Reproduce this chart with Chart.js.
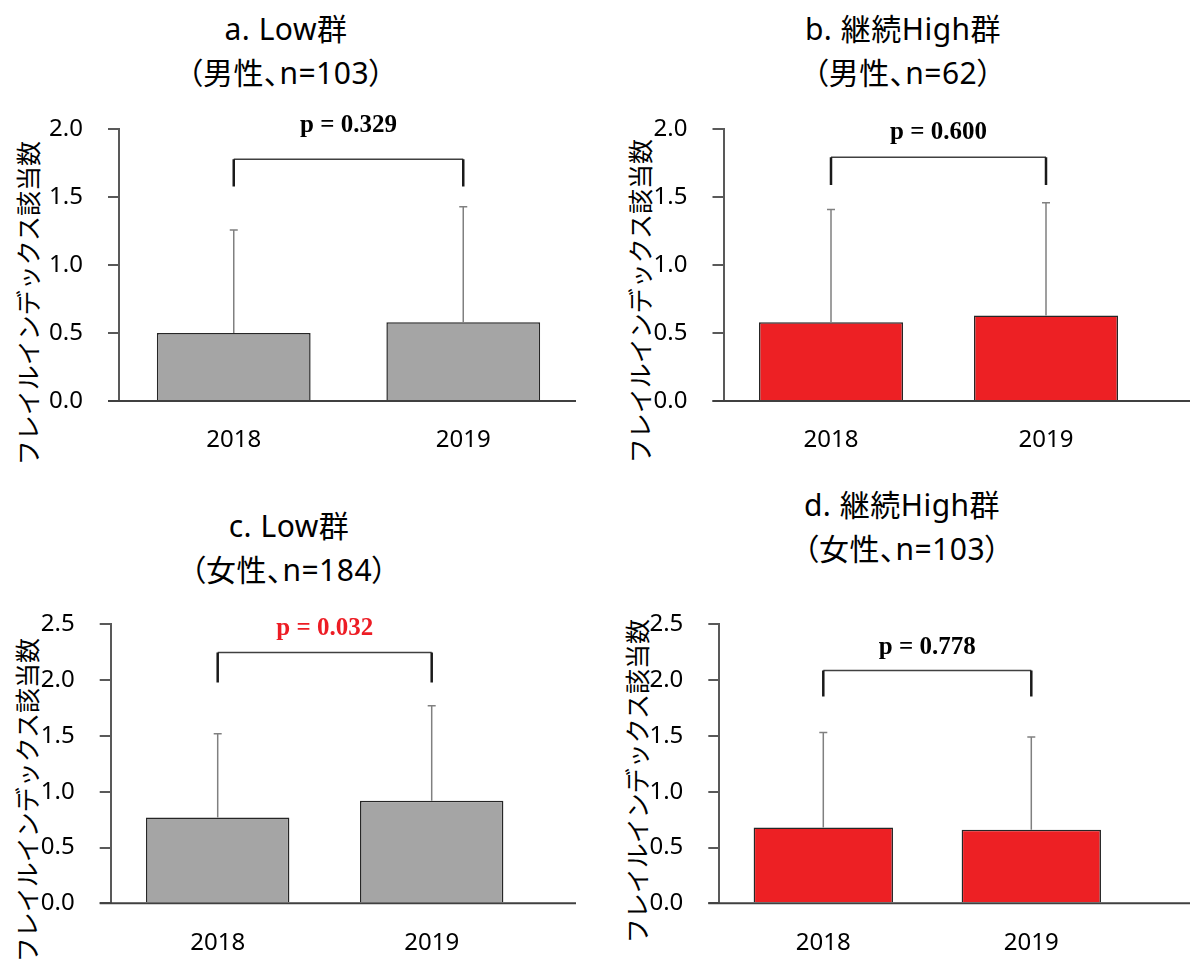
<!DOCTYPE html>
<html lang="ja">
<head>
<meta charset="utf-8">
<script src="https://cdn.jsdelivr.net/npm/chart.js@4.4.1/dist/chart.umd.min.js"></script>
<style>
  html, body { margin: 0; padding: 0; background: #fff; }
  body { width: 1190px; height: 963px; position: relative; overflow: hidden; }
  canvas { position: absolute; }
  .title {
    position: absolute; width: 420px; text-align: center;
    font-family: "Noto Sans", "Noto Sans CJK JP", sans-serif;
    font-size: 30px; line-height: 44px; color: #000; letter-spacing: 0.5px;
    font-feature-settings: "palt"; white-space: nowrap;
  }
  .ytitle {
    position: absolute; width: 400px; height: 30px; line-height: 30px;
    text-align: center; font-family: "Noto Sans CJK JP", sans-serif;
    font-size: 25px; color: #000; transform: rotate(-90deg); white-space: nowrap;
  }
</style>
</head>
<body>
<script>
// Survey years on the category axis
const years = ['2018', '2019'];

// Mean frailty-index counts and standard deviations per group
const lowMaleMean = [0.50, 0.58];
const lowMaleSD = [0.76, 0.85];
const highMaleMean = [0.58, 0.63];
const highMaleSD = [0.83, 0.83];
const lowFemaleMean = [0.77, 0.92];
const lowFemaleSD = [0.75, 0.85];
const highFemaleMean = [0.68, 0.66];
const highFemaleSD = [0.85, 0.83];

// Paired-test p values
const pValues = ['0.329', '0.600', '0.032', '0.778'];

// Y-axis tick ranges
const yMaxMale = 2.0;
const yMaxFemale = 2.5;
const yStep = 0.5;

const yAxisTitle = 'フレイルインデックス該当数';

const GRAY = '#A5A5A5';
const RED = '#ED2024';

// Panel layout: canvas box and plot area (page pixels), plus annotation levels in axis units
const panels = [
  { title: ['a. Low群', '（男性、n=103）'], titlePos: [286, 7], yTitlePos: [27, 303],
    mean: lowMaleMean, sd: lowMaleSD, color: GRAY, yMax: yMaxMale, p: pValues[0], pColor: '#000',
    bracket: [1.78, 1.58], labelAt: 2.03,
    canvas: [0, 90, 595, 390], area: [119, 124, 578, 401], lineEnd: 576 },
  { title: ['b. 継続High群', '（男性、n=62）'], titlePos: [903, 7], yTitlePos: [639, 301],
    mean: highMaleMean, sd: highMaleSD, color: RED, yMax: yMaxMale, p: pValues[1], pColor: '#000',
    bracket: [1.795, 1.59], labelAt: 1.98,
    canvas: [595, 90, 595, 390], area: [723.5, 124, 1153.5, 401], lineEnd: 1190 },
  { title: ['c. Low群', '（女性、n=184）'], titlePos: [289, 504], yTitlePos: [26, 800],
    mean: lowFemaleMean, sd: lowFemaleSD, color: GRAY, yMax: yMaxFemale, p: pValues[2], pColor: '#ED1C24',
    bracket: [2.247, 1.98], labelAt: 2.46,
    canvas: [0, 585, 595, 378], area: [110.7, 620.7, 538.7, 903.3], lineEnd: 576 },
  { title: ['d. 継続High群', '（女性、n=103）'], titlePos: [902, 483], yTitlePos: [636, 781],
    mean: highFemaleMean, sd: highFemaleSD, color: RED, yMax: yMaxFemale, p: pValues[3], pColor: '#000',
    bracket: [2.087, 1.853], labelAt: 2.29,
    canvas: [595, 585, 595, 378], area: [719.3, 601, 1135.3, 903.3], lineEnd: 1190 }
];

// Error bars (upper SD only), extended baseline, significance bracket and p label
const annotate = {
  id: 'annotate',
  afterDatasetsDraw(chart, args, opts) {
    const ctx = chart.ctx;
    const ys = chart.scales.y, xs = chart.scales.x;
    const area = chart.chartArea;
    const meta = chart.getDatasetMeta(0);
    const mean = chart.data.datasets[0].data;
    ctx.save();

    ctx.strokeStyle = '#808080';
    ctx.lineWidth = 1.5;
    meta.data.forEach((bar, i) => {
      const top = ys.getPixelForValue(mean[i] + opts.sd[i]);
      ctx.beginPath();
      ctx.moveTo(bar.x, bar.y);
      ctx.lineTo(bar.x, top);
      ctx.moveTo(bar.x - 4, top);
      ctx.lineTo(bar.x + 4, top);
      ctx.stroke();
    });

    ctx.strokeStyle = '#404040';
    ctx.lineWidth = 2;
    ctx.beginPath();
    ctx.moveTo(area.left - 11, area.bottom);
    ctx.lineTo(area.right + opts.lineExtra, area.bottom);
    ctx.stroke();

    const x0 = xs.getPixelForValue(0), x1 = xs.getPixelForValue(1);
    const yt = ys.getPixelForValue(opts.bracket[0]);
    const yb = ys.getPixelForValue(opts.bracket[1]);
    ctx.strokeStyle = '#404040';
    ctx.lineWidth = 1.5;
    ctx.beginPath();
    ctx.moveTo(x0, yt);
    ctx.lineTo(x1, yt);
    ctx.stroke();
    ctx.strokeStyle = '#1a1a1a';
    ctx.lineWidth = 2.5;
    ctx.beginPath();
    ctx.moveTo(x0, yt); ctx.lineTo(x0, yb);
    ctx.moveTo(x1, yt); ctx.lineTo(x1, yb);
    ctx.stroke();

    ctx.font = 'bold 25px "Liberation Serif", "Times New Roman", serif';
    ctx.fillStyle = opts.pColor;
    ctx.textAlign = 'center';
    ctx.textBaseline = 'middle';
    ctx.fillText('p = ' + opts.p, (x0 + x1) / 2, ys.getPixelForValue(opts.labelAt));
    ctx.restore();
  }
};

panels.forEach((pn) => {
  const [cx, cy, cw, ch] = pn.canvas;
  const [L, T, R, B] = pn.area;

  const t = document.createElement('div');
  t.className = 'title';
  t.style.left = (pn.titlePos[0] - 210) + 'px';
  t.style.top = pn.titlePos[1] + 'px';
  t.innerHTML = pn.title.join('<br>');
  document.body.appendChild(t);

  const yt = document.createElement('div');
  yt.className = 'ytitle';
  yt.style.left = (pn.yTitlePos[0] - 200) + 'px';
  yt.style.top = (pn.yTitlePos[1] - 15) + 'px';
  yt.textContent = yAxisTitle;
  document.body.appendChild(yt);

  const canvas = document.createElement('canvas');
  canvas.width = cw; canvas.height = ch;
  canvas.style.left = cx + 'px'; canvas.style.top = cy + 'px';
  canvas.style.width = cw + 'px'; canvas.style.height = ch + 'px';
  document.body.appendChild(canvas);

  new Chart(canvas, {
    type: 'bar',
    data: {
      labels: years,
      datasets: [{
        data: pn.mean,
        backgroundColor: pn.color,
        borderColor: '#262626',
        borderWidth: 1.5,
        barPercentage: 0.67,
        categoryPercentage: 1.0
      }]
    },
    options: {
      responsive: false,
      animation: false,
      devicePixelRatio: 1,
      layout: { padding: { left: 0, top: T - cy, right: cx + cw - R, bottom: 0 } },
      plugins: {
        legend: { display: false },
        tooltip: { enabled: false },
        annotate: { sd: pn.sd, bracket: pn.bracket, labelAt: pn.labelAt, p: pn.p,
                    pColor: pn.pColor, lineExtra: pn.lineEnd - R }
      },
      scales: {
        x: {
          offset: true,
          grid: { display: false, drawTicks: false },
          border: { display: false },
          ticks: { color: '#000', padding: 25, font: { family: 'Noto Sans', size: 24 } },
          afterFit(scale) { scale.height = cy + ch - B; }
        },
        y: {
          min: 0, max: pn.yMax,
          border: { display: true, color: '#595959', width: 2 },
          grid: { display: true, drawOnChartArea: false, drawTicks: true, tickLength: 11,
                  color: '#595959', lineWidth: 2 },
          ticks: { stepSize: yStep, color: '#000', padding: 25,
                   font: { family: 'Noto Sans', size: 24 },
                   callback: (v) => Number(v).toFixed(1) },
          afterFit(scale) { scale.width = L - cx; }
        }
      }
    },
    plugins: [annotate]
  });
});
</script>
</body>
</html>
